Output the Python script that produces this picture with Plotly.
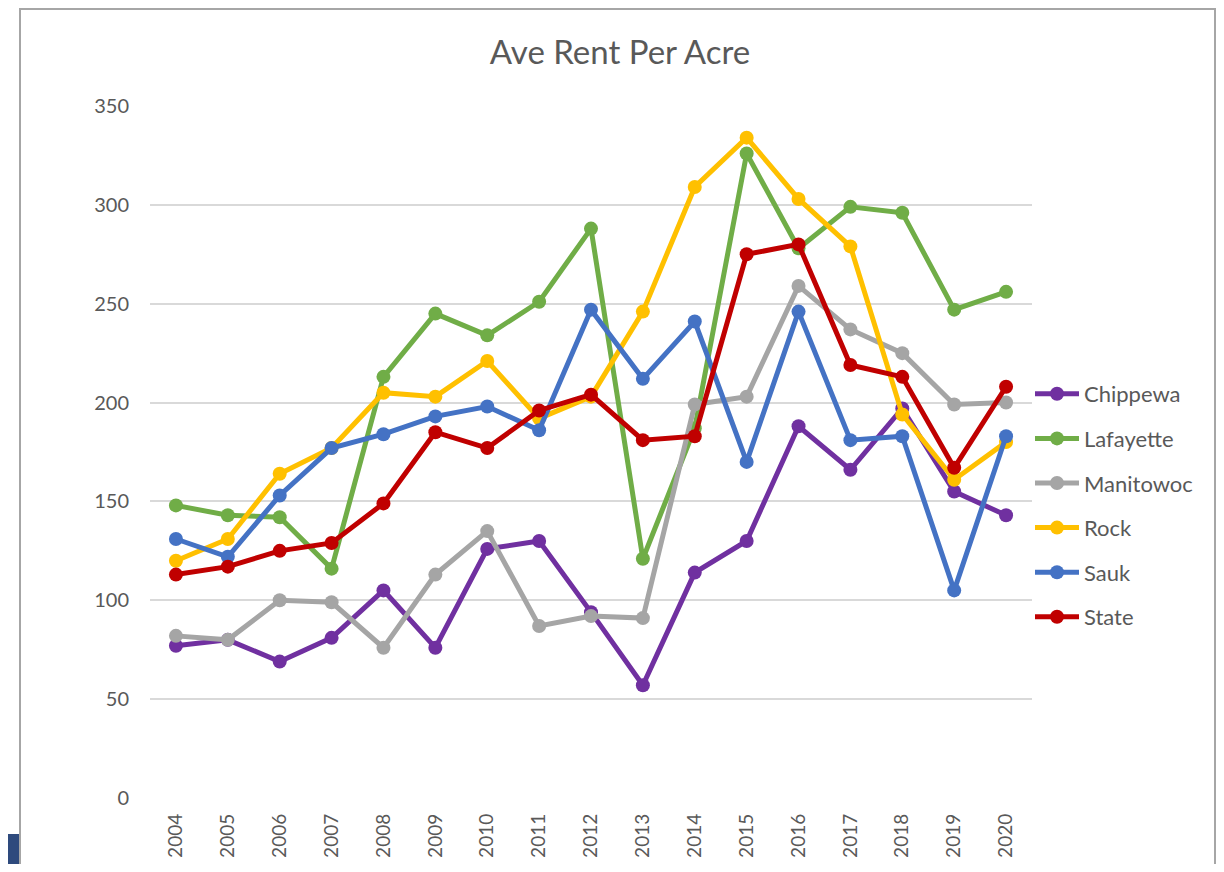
import plotly.graph_objects as go

years = [str(y) for y in range(2004, 2021)]

chippewa = [77, 80, 69, 81, 105, 76, 126, 130, 94, 57, 114, 130, 188, 166, 197, 155, 143]
lafayette = [148, 143, 142, 116, 213, 245, 234, 251, 288, 121, 187, 326, 278, 299, 296, 247, 256]
manitowoc = [82, 80, 100, 99, 76, 113, 135, 87, 92, 91, 199, 203, 259, 237, 225, 199, 200]
rock = [120, 131, 164, 177, 205, 203, 221, 192, 203, 246, 309, 334, 303, 279, 194, 161, 180]
sauk = [131, 122, 153, 177, 184, 193, 198, 186, 247, 212, 241, 170, 246, 181, 183, 105, 183]
state = [113, 117, 125, 129, 149, 185, 177, 196, 204, 181, 183, 275, 280, 219, 213, 167, 208]

series = [
    ("Chippewa", chippewa, "#7030A0"),
    ("Lafayette", lafayette, "#70AD47"),
    ("Manitowoc", manitowoc, "#A5A5A5"),
    ("Rock", rock, "#FFC000"),
    ("Sauk", sauk, "#4472C4"),
    ("State", state, "#C00000"),
]

FONT = "Lato, 'Open Sans', sans-serif"
TXT = "#595959"

fig = go.Figure()
for name, vals, col in series:
    fig.add_trace(go.Scatter(
        x=years, y=vals, name=name, mode="lines+markers",
        line=dict(color=col, width=5),
        marker=dict(color=col, size=14),
        legendgroup=name,
    ))

# page has an 8px body margin on every side; work in page coordinates and convert
OFF = 8
W, H = 1224 - 2 * OFF, 872 - 2 * OFF
L, R, T, B = 150, 1032, 106, 798  # page coords of plot area


def px(x):
    return (x - L) / (R - L)


def py(y):
    return (B - y) / (B - T)


shapes = [
    dict(type="rect", xref="paper", yref="paper",
         x0=px(20), x1=px(1215), y0=py(900), y1=py(9),
         line=dict(color="#A6A6A6", width=2), fillcolor="rgba(0,0,0,0)", layer="below"),
    dict(type="rect", xref="paper", yref="paper",
         x0=px(0), x1=px(19), y0=py(900), y1=py(834),
         line=dict(width=0), fillcolor="#2E4A7D", layer="below"),
]

fig.update_layout(
    width=W, height=H,
    margin=dict(l=L - OFF, r=W - (R - OFF), t=T - OFF, b=H - (B - OFF), autoexpand=False),
    paper_bgcolor="white", plot_bgcolor="white",
    font=dict(family=FONT, color=TXT),
    title=dict(text="Ave Rent Per Acre", x=px(620), xref="paper", xanchor="center",
               y=1 - (52 - OFF) / H, yref="container", yanchor="middle",
               font=dict(size=33, color=TXT, family=FONT)),
    xaxis=dict(type="category", range=[-0.5, 16.5], showgrid=False, zeroline=False,
               showline=False, tickangle=-90, tickfont=dict(size=19, color=TXT),
               ticks="", ticklabelstandoff=11, automargin=False),
    yaxis=dict(range=[0, 350], dtick=50, showgrid=True, gridcolor="#D9D9D9", gridwidth=2,
               zeroline=False, showline=False, tickfont=dict(size=20, color=TXT),
               ticks="", ticklabelstandoff=20, automargin=False),
    legend=dict(x=px(1030), y=py(373), xanchor="left", yanchor="top",
                font=dict(size=22, color=TXT, family=FONT), tracegroupgap=13,
                bgcolor="rgba(0,0,0,0)", itemwidth=44),
    shapes=shapes,
)

fig.write_html("out.html")
